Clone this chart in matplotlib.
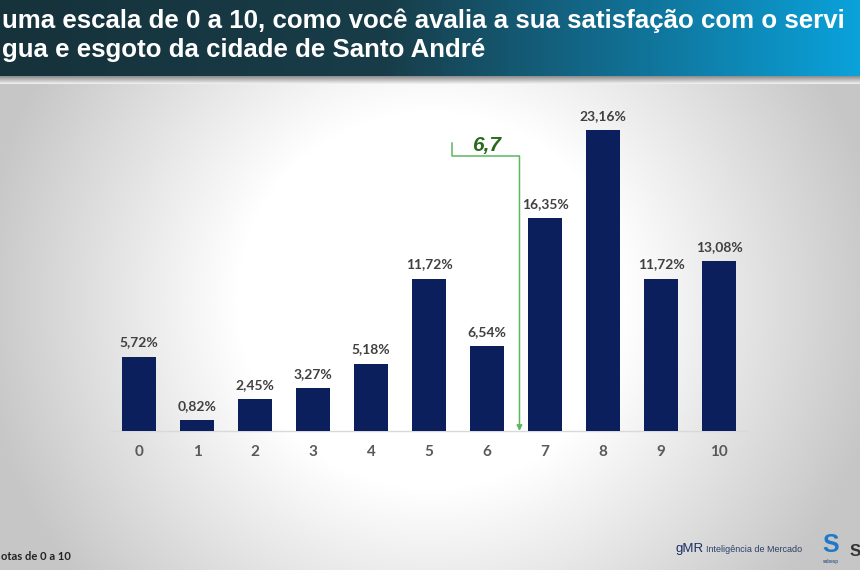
import numpy as np
import matplotlib
matplotlib.use("Agg")
import matplotlib.pyplot as plt
from matplotlib.colors import LinearSegmentedColormap

# ---- data ----
categories = ["0", "1", "2", "3", "4", "5", "6", "7", "8", "9", "10"]
values = [5.72, 0.82, 2.45, 3.27, 5.18, 11.72, 6.54, 16.35, 23.16, 11.72, 13.08]
value_labels = ["5,72%", "0,82%", "2,45%", "3,27%", "5,18%", "11,72%", "6,54%",
                "16,35%", "23,16%", "11,72%", "13,08%"]
mean_label = "6,7"
mean_pos = 6.56
title_line1 = "uma escala de 0 a 10, como você avalia a sua satisfação com o servi"
title_line2 = "gua e esgoto da cidade de Santo André"
footer_note = "otas de 0 a 10"

W, H = 860, 570
fig = plt.figure(figsize=(W / 100, H / 100), dpi=100)

# ---- background gradient (white centre, grey edges) ----
bg = fig.add_axes([0, 0, 1, 1], zorder=-10)
yy, xx = np.mgrid[0:H, 0:W]
d = np.sqrt(((xx - 430) / 430.0) ** 2 + ((yy - 300) / 420.0) ** 2)
g = np.clip((d - 0.45) / 0.6, 0, 1)
shade = 1.0 - 0.22 * g
bg.imshow(np.dstack([shade, shade, shade]), extent=[0, W, H, 0], aspect="auto")
bg.set_xlim(0, W)
bg.set_ylim(H, 0)
bg.axis("off")

# ---- header band ----
hb = fig.add_axes([0, (H - 76) / H, 1, 76 / H], zorder=-5)
hcmap = LinearSegmentedColormap.from_list(
    "hdr", [(0.0, "#16323b"), (0.45, "#183d49"), (0.7, "#126a8c"), (1.0, "#0aa2da")])
grad = np.linspace(0, 1, 400).reshape(1, -1)
hb.imshow(grad, cmap=hcmap, extent=[0, W, 76, 0], aspect="auto")
hb.set_xlim(0, W)
hb.set_ylim(76, 0)
hb.axis("off")
# shadow under header
sh = fig.add_axes([0, (H - 84) / H, 1, 8 / H], zorder=-6)
sgrad = np.linspace(0, 1, 20).reshape(-1, 1)
sh.imshow(np.dstack([0.55 + 0.4 * sgrad] * 3), extent=[0, W, 8, 0], aspect="auto")
sh.axis("off")

fig.text(2 / W, 1 - 21 / H, title_line1, color="white", fontsize=18.6,
         fontweight="bold", family="Liberation Sans", va="center", ha="left")
fig.text(2 / W, 1 - 50 / H, title_line2, color="white", fontsize=18.6,
         fontweight="bold", family="Liberation Sans", va="center", ha="left")

# ---- chart ----
ax = fig.add_axes([110 / W, (H - 431) / H, 638 / W, 325 / H])
ax.patch.set_alpha(0)
x = np.arange(len(categories))
ax.bar(x, values, width=0.59, color="#0b1f5d", zorder=3)
ax.set_xlim(-0.5, 10.5)
ax.set_ylim(0, 25)
for s in ["top", "right", "left"]:
    ax.spines[s].set_visible(False)
ax.spines["bottom"].set_color("#d9d9d9")
ax.spines["bottom"].set_linewidth(1)
ax.set_yticks([])
ax.set_xticks(x)
ax.set_xticklabels(categories, fontsize=11, color="#595959", fontweight="bold",
                   family="Lato")
ax.tick_params(axis="x", length=0, pad=10)

for xi, v, lab in zip(x, values, value_labels):
    ax.annotate(lab, (xi, v), xytext=(0, 6), textcoords="offset points",
                ha="center", va="bottom", fontsize=10, color="#404040",
                fontweight="bold", family="Lato")

# mean marker
green_line = "#5cb860"
ax.plot([5.40, 5.40, mean_pos], [22.15, 21.15, 21.15], color=green_line, lw=1.1,
        zorder=4, clip_on=False)
ax.annotate("", xy=(mean_pos, 0.0), xytext=(mean_pos, 21.15),
            arrowprops=dict(arrowstyle="-|>", color=green_line, lw=1.1,
                            mutation_scale=8, shrinkA=0, shrinkB=0), zorder=4)
ax.text(5.99, 21.95, mean_label, ha="center", va="center", fontsize=15,
        fontweight="bold", fontstyle="italic", color="#2b6a1e",
        family="Liberation Sans")

# ---- footer ----
fig.text(1 / W, 1 - 557 / H, footer_note, fontsize=8, color="#222222",
         fontweight="bold", family="Lato", va="center", ha="left")
fig.text(676 / W, 1 - 549 / H, "gMR", fontsize=9.5, color="#1b2f63",
         family="Liberation Sans", va="center", ha="left")
fig.text(706 / W, 1 - 549 / H, "Inteligência de Mercado", fontsize=6.5,
         color="#2c3e6a", family="Liberation Sans", va="center", ha="left")
fig.text(831 / W, 1 - 545 / H, "S", fontsize=18, color="#1f78c8", fontweight="bold",
         family="Liberation Sans", va="center", ha="center")
fig.text(831 / W, 1 - 562 / H, "sabesp", fontsize=3.5, color="#1f3d7a",
         family="Liberation Sans", va="center", ha="center")
fig.text(850 / W, 1 - 552 / H, "S", fontsize=12, color="#333333", fontweight="bold",
         family="Liberation Sans", va="center", ha="left")

fig.savefig("out.png", dpi=100)
